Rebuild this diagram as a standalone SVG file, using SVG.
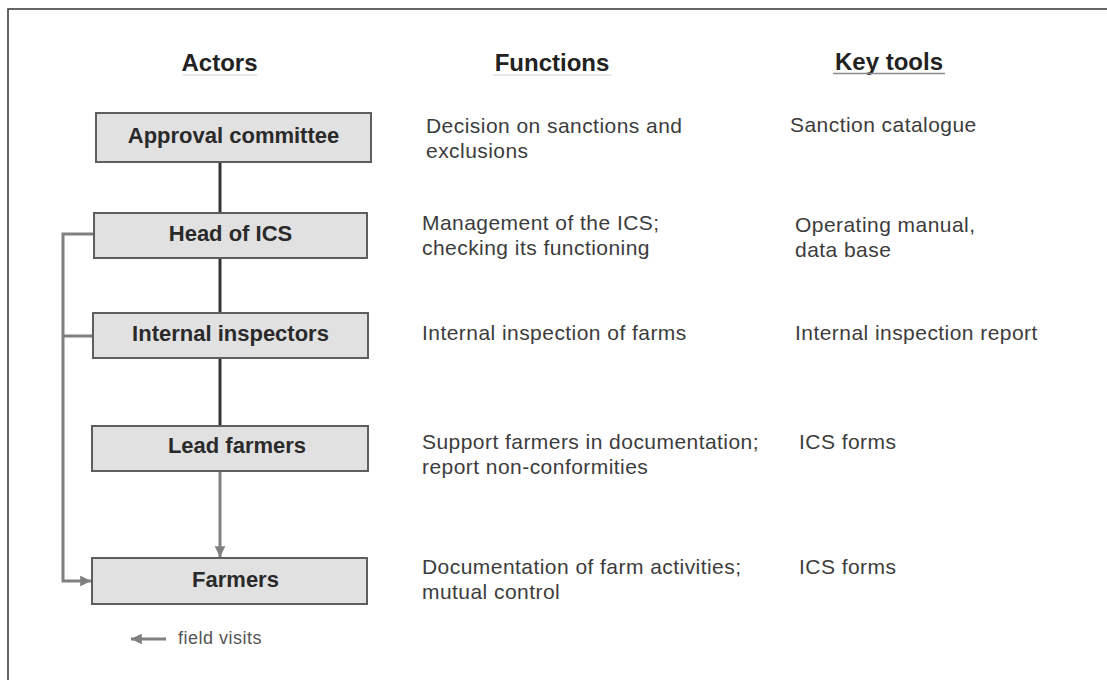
<svg xmlns="http://www.w3.org/2000/svg" width="1107" height="680" viewBox="0 0 1107 680">
<style>
.hdr{font-family:"Liberation Sans",Arial,sans-serif;font-weight:bold;font-size:24px;fill:#222;text-anchor:middle}
.lbl{font-family:"Liberation Sans",Arial,sans-serif;font-weight:bold;font-size:22px;fill:#2a2a2a;text-anchor:middle}
.txt{font-family:"Liberation Sans",Arial,sans-serif;font-size:21px;letter-spacing:0.45px;fill:#3c3c3c}
.box{fill:#e1e1e1;stroke:#5e5e5e;stroke-width:2}
.dark{stroke:#333;stroke-width:3;fill:none}
.grey{stroke:#808080;stroke-width:3;fill:none}
</style>
<defs>
<marker id="ah" viewBox="0 0 10 10" refX="10" refY="5" markerWidth="3.6" markerHeight="3.6" orient="auto" markerUnits="strokeWidth">
<path d="M0,0 L10,5 L0,10 z" fill="#808080"/>
</marker>
</defs>
<rect width="1107" height="680" fill="#fff"/>
<path d="M8,690 L8,9 L1110,9" stroke="#333" stroke-width="1.5" fill="none"/>
<g id="headers">
<text class="hdr" x="219.5" y="71">Actors</text>
<line x1="182" y1="75" x2="257" y2="75" stroke="#e2e2e2" stroke-width="1.5"/>
<text class="hdr" x="552" y="71">Functions</text>
<line x1="493" y1="75" x2="612" y2="75" stroke="#e2e2e2" stroke-width="1.5"/>
<text class="hdr" x="889" y="70">Key tools</text>
<line x1="833" y1="73.5" x2="945" y2="73.5" stroke="#8a8a8a" stroke-width="1.5"/>
</g>
<g id="connectors">
<line class="dark" x1="220" y1="162" x2="220" y2="213"/>
<line class="dark" x1="220" y1="258" x2="220" y2="313"/>
<line class="dark" x1="220" y1="358" x2="220" y2="426"/>
<line class="grey" x1="220" y1="471" x2="220" y2="557" marker-end="url(#ah)"/>
<path class="grey" d="M94,234 L63,234 L63,581 L91,581" marker-end="url(#ah)"/>
<line class="grey" x1="63" y1="336" x2="93" y2="336"/>
</g>
<g id="approval">
<rect class="box" x="96" y="113" width="275" height="49"/>
<text class="lbl" x="233.5" y="143">Approval committee</text>
</g>
<g id="head">
<rect class="box" x="94" y="213" width="273" height="45"/>
<text class="lbl" x="230.5" y="241">Head of ICS</text>
</g>
<g id="inspectors">
<rect class="box" x="93" y="313" width="275" height="45"/>
<text class="lbl" x="230.5" y="341">Internal inspectors</text>
</g>
<g id="leadfarmers">
<rect class="box" x="92" y="426" width="276" height="45"/>
<text class="lbl" x="237" y="453">Lead farmers</text>
</g>
<g id="farmers">
<rect class="box" x="92" y="558" width="275" height="46"/>
<text class="lbl" x="235.5" y="587">Farmers</text>
</g>
<g id="functions">
<text class="txt" x="426" y="133">Decision on sanctions and</text>
<text class="txt" x="426" y="158">exclusions</text>
<text class="txt" x="422" y="230">Management of the ICS;</text>
<text class="txt" x="422" y="255">checking its functioning</text>
<text class="txt" x="422" y="340">Internal inspection of farms</text>
<text class="txt" x="422" y="449">Support farmers in documentation;</text>
<text class="txt" x="422" y="474">report non-conformities</text>
<text class="txt" x="422" y="574">Documentation of farm activities;</text>
<text class="txt" x="422" y="599">mutual control</text>
</g>
<g id="tools">
<text class="txt" x="790" y="132">Sanction catalogue</text>
<text class="txt" x="795" y="232">Operating manual,</text>
<text class="txt" x="795" y="257">data base</text>
<text class="txt" x="795" y="340">Internal inspection report</text>
<text class="txt" x="799" y="449">ICS forms</text>
<text class="txt" x="799" y="574">ICS forms</text>
</g>
<g id="legend">
<line class="grey" x1="166" y1="639" x2="131" y2="639" marker-end="url(#ah)"/>
<text class="txt" x="178" y="644" style="font-size:18px;letter-spacing:0.5px;fill:#555">field visits</text>
</g>
</svg>
